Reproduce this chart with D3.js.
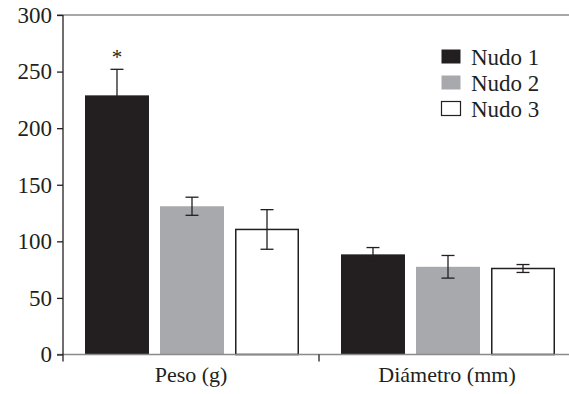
<!DOCTYPE html>
<html>
<head>
<meta charset="utf-8">
<script src="https://cdn.jsdelivr.net/npm/d3@7"></script>
<style>
  body { margin: 0; background: #fff; }
</style>
</head>
<body>
<div id="chart"></div>
<script>
// data
var categories = ["Peso (g)", "Diámetro (mm)"];
var seriesNames = ["Nudo 1", "Nudo 2", "Nudo 3"];
var means = [
    [229, 131, 110.5],   // Peso
    [88.5, 77.5, 76]     // Diámetro
];
var errors = [
    [23, 8, 17.5],
    [6, 10, 3.5]
];
var yTicks = [0, 50, 100, 150, 200, 250, 300];
var significant = [[true, false, false], [false, false, false]];

var svgWidth = 569;
var svgHeight = 394;

var ink = "#231f20";
var serif = "'Liberation Serif', 'Times New Roman', serif";
var fills = ["#231f20", "#a7a9ac", "#ffffff"];

var svg = d3.select("#chart")
    .append("svg")
    .attr("width", svgWidth)
    .attr("height", svgHeight);

// scales
var y = d3.scaleLinear()
    .domain([0, 300])
    .range([354.5, 15]);

var x0 = d3.scaleBand()
    .domain(categories)
    .range([63, 575])
    .padding(0);

var x1 = d3.scaleBand()
    .domain(seriesNames)
    .range([22, 236])
    .paddingInner(0.147)
    .paddingOuter(0);

// top frame line (gray)
svg.append("line")
    .attr("x1", 57).attr("x2", svgWidth)
    .attr("y1", y(300)).attr("y2", y(300))
    .attr("stroke", "#8a8a8a").attr("stroke-width", 1.5);

// bars
var groups = svg.selectAll("g.cat")
    .data(categories)
    .enter()
    .append("g")
    .attr("class", "cat")
    .attr("transform", d => `translate(${x0(d)},0)`);

groups.each(function(cat, ci) {
    var g = d3.select(this);
    seriesNames.forEach(function(s, si) {
        var v = means[ci][si];
        var e = errors[ci][si];
        var bx = x1(s);
        var bw = x1.bandwidth();
        var isWhite = si === 2;
        g.append("rect")
            .attr("x", isWhite ? bx + 0.75 : bx)
            .attr("y", y(v))
            .attr("width", isWhite ? bw - 1.5 : bw)
            .attr("height", y(0) - y(v))
            .attr("fill", fills[si])
            .attr("stroke", isWhite ? ink : "none")
            .attr("stroke-width", 1.5);

        // error bar
        var cx = bx + bw / 2;
        g.append("line")
            .attr("x1", cx).attr("x2", cx)
            .attr("y1", y(v + e)).attr("y2", y(v - e))
            .attr("stroke", ink).attr("stroke-width", 1.3);
        [v + e, v - e].forEach(function(val) {
            g.append("line")
                .attr("x1", cx - 6.5).attr("x2", cx + 6.5)
                .attr("y1", y(val)).attr("y2", y(val))
                .attr("stroke", ink).attr("stroke-width", 1.3);
        });

        if (significant[ci][si]) {
            g.append("text")
                .attr("x", cx)
                .attr("y", y(v + e) - 5)
                .attr("text-anchor", "middle")
                .style("font-family", serif)
                .style("font-size", "21px")
                .attr("fill", ink)
                .text("*");
        }
    });
});

// x axis (gray baseline + category ticks)
svg.append("line")
    .attr("x1", 57).attr("x2", svgWidth)
    .attr("y1", y(0)).attr("y2", y(0))
    .attr("stroke", "#8a8a8a").attr("stroke-width", 1.5);

var xAxis = svg.append("g")
    .attr("transform", `translate(0, ${y(0)})`)
    .call(d3.axisBottom(x0).tickSize(0).tickPadding(12));
xAxis.select(".domain").remove();
xAxis.selectAll("text")
    .style("font-family", serif)
    .style("font-size", "22px")
    .attr("fill", ink);

categories.forEach(function(c, i) {
    if (i > 0) {
        svg.append("line")
            .attr("x1", x0(c)).attr("x2", x0(c))
            .attr("y1", y(0)).attr("y2", y(0) + 7)
            .attr("stroke", ink).attr("stroke-width", 1.3);
    }
});

// y axis
var yAxis = svg.append("g")
    .attr("transform", "translate(63,0)")
    .call(d3.axisLeft(y).tickValues(yTicks).tickSize(6).tickPadding(5));
yAxis.select(".domain")
    .attr("d", `M0,${y(300)}V${y(0) + 7}`)
    .attr("stroke", ink).attr("stroke-width", 1.3);
yAxis.selectAll(".tick line").attr("stroke", ink).attr("stroke-width", 1.3);
yAxis.selectAll("text")
    .style("font-family", serif)
    .style("font-size", "23px")
    .attr("fill", ink);

// legend
var legend = svg.append("g")
    .attr("transform", "translate(441, 49)");
seriesNames.forEach(function(s, i) {
    var row = legend.append("g").attr("transform", `translate(0, ${i * 26})`);
    row.append("rect")
        .attr("x", 0.5).attr("y", 0.5)
        .attr("width", 19).attr("height", 14)
        .attr("fill", fills[i])
        .attr("stroke", i === 2 ? ink : "none")
        .attr("stroke-width", 1.2);
    row.append("text")
        .attr("x", 30)
        .attr("y", 7.5)
        .attr("dy", "0.35em")
        .style("font-family", serif)
        .style("font-size", "23px")
        .attr("fill", ink)
        .text(s);
});
</script>
</body>
</html>
